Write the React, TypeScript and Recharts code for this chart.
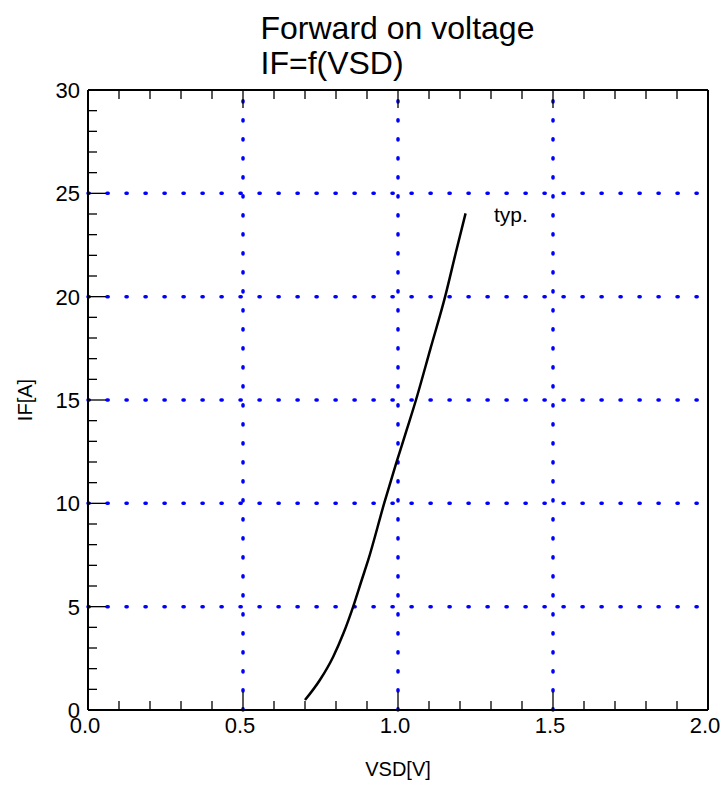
import React from 'react';
import { LineChart, Line, XAxis, YAxis, ReferenceLine } from 'recharts';

const VSD = [0.700, 0.748, 0.791, 0.824, 0.856, 0.883, 0.904, 0.956, 0.994, 1.028, 1.058, 1.105, 1.152, 1.186, 1.218];
const IF = [0.48, 1.45, 2.58, 3.71, 5.03, 6.29, 7.26, 10.03, 11.93, 13.55, 15.0, 17.5, 20.0, 22.1, 24.03];

const X_TICKS = [0, 0.1, 0.2, 0.3, 0.4, 0.5, 0.6, 0.7, 0.8, 0.9, 1.0, 1.1, 1.2, 1.3, 1.4, 1.5, 1.6, 1.7, 1.8, 1.9, 2.0];
const Y_TICKS = [0, 1, 2, 3, 4, 5, 6, 7, 8, 9, 10, 11, 12, 13, 14, 15, 16, 17, 18, 19, 20, 21, 22, 23, 24, 25, 26, 27, 28, 29, 30];
const GRID_X = [0.5, 1.0, 1.5];
const GRID_Y = [5, 10, 15, 20, 25];

const TITLE_1 = 'Forward on voltage';
const TITLE_2 = 'IF=f(VSD)';
const X_LABEL = 'VSD[V]';
const Y_LABEL = 'IF[A]';
const CURVE_LABEL = 'typ.';

const data = VSD.map((v, i) => ({ v, i: IF[i] }));

const FONT = '"Liberation Sans", Arial, Helvetica, sans-serif';
const MAJOR = 18;
const MINOR = 9;

const isMajorX = (v: number) => Math.abs(v * 2 - Math.round(v * 2)) < 1e-6;
const isMajorY = (v: number) => Math.abs(v / 5 - Math.round(v / 5)) < 1e-6;

const BottomTick = (props: any) => {
  const { x, y, payload } = props;
  const major = isMajorX(payload.value);
  return (
    <g>
      <line x1={x} y1={y} x2={x} y2={y - (major ? MAJOR : MINOR)} stroke="#000" strokeWidth={1.3} />
      {major && (
        <text x={x - 3} y={y + 23} textAnchor="middle" fontSize={22} fontFamily={FONT} fill="#000">
          {payload.value.toFixed(1)}
        </text>
      )}
    </g>
  );
};

const TopTick = (props: any) => {
  const { x, y, payload } = props;
  const major = isMajorX(payload.value);
  return <line x1={x} y1={y} x2={x} y2={y + (major ? MAJOR : MINOR)} stroke="#000" strokeWidth={1.3} />;
};

const LeftTick = (props: any) => {
  const { x, y, payload } = props;
  const major = isMajorY(payload.value);
  return (
    <g>
      <line x1={x} y1={y} x2={x + (major ? MAJOR : MINOR)} y2={y} stroke="#000" strokeWidth={1.3} />
      {major && (
        <text x={x - 8} y={y + 8} textAnchor="end" fontSize={22} fontFamily={FONT} fill="#000">
          {String(payload.value)}
        </text>
      )}
    </g>
  );
};

const RightTick = (props: any) => {
  const { x, y, payload } = props;
  const major = isMajorY(payload.value);
  return <line x1={x} y1={y} x2={x - (major ? MAJOR : MINOR)} y2={y} stroke="#000" strokeWidth={1.3} />;
};

export default function App() {
  return (
    <div style={{ position: 'absolute', left: 0, top: 0, width: 725, height: 789, background: '#fff' }}>
      <LineChart
        width={725}
        height={789}
        data={data}
        margin={{ top: 80, right: 7, bottom: 39, left: 48 }}
      >
        <XAxis
          xAxisId="b"
          dataKey="v"
          type="number"
          domain={[0, 2]}
          ticks={X_TICKS}
          interval={0}
          height={40}
          tickSize={0}
          tickMargin={0}
          tickLine={false}
          tick={<BottomTick />}
          axisLine={{ stroke: '#000', strokeWidth: 2 }}
          allowDataOverflow
        />
        <XAxis
          xAxisId="t"
          orientation="top"
          dataKey="v"
          type="number"
          domain={[0, 2]}
          ticks={X_TICKS}
          interval={0}
          height={10}
          tickSize={0}
          tickMargin={0}
          tickLine={false}
          tick={<TopTick />}
          axisLine={{ stroke: '#000', strokeWidth: 2 }}
        />
        <YAxis
          yAxisId="l"
          type="number"
          domain={[0, 30]}
          ticks={Y_TICKS}
          interval={0}
          width={40}
          tickSize={0}
          tickMargin={0}
          tickLine={false}
          tick={<LeftTick />}
          axisLine={{ stroke: '#000', strokeWidth: 2 }}
          allowDataOverflow
        />
        <YAxis
          yAxisId="r"
          orientation="right"
          type="number"
          domain={[0, 30]}
          ticks={Y_TICKS}
          interval={0}
          width={10}
          tickSize={0}
          tickMargin={0}
          tickLine={false}
          tick={<RightTick />}
          axisLine={{ stroke: '#000', strokeWidth: 2 }}
        />
        {GRID_X.map((gx) => (
          <ReferenceLine
            key={'gx' + gx}
            xAxisId="b"
            yAxisId="l"
            x={gx}
            stroke="#0000FF"
            strokeWidth={3.5}
            strokeDasharray="1.2 17.8"
            strokeLinecap="round"
          />
        ))}
        {GRID_Y.map((gy) => (
          <ReferenceLine
            key={'gy' + gy}
            xAxisId="b"
            yAxisId="l"
            y={gy}
            stroke="#0000FF"
            strokeWidth={3.5}
            strokeDasharray="1.2 17.8"
            strokeLinecap="round"
          />
        ))}
        <Line
          xAxisId="b"
          yAxisId="l"
          dataKey="i"
          type="monotone"
          stroke="#000"
          strokeWidth={2.5}
          dot={false}
          isAnimationActive={false}
        />
      </LineChart>
      <svg
        width={725}
        height={789}
        style={{ position: 'absolute', left: 0, top: 0, pointerEvents: 'none' }}
      >
        <text x={260.5} y={39} fontSize={32} fontFamily={FONT} fill="#000">{TITLE_1}</text>
        <text x={260.5} y={74} fontSize={32} fontFamily={FONT} fill="#000">{TITLE_2}</text>
        <text x={494} y={222} fontSize={21} fontFamily={FONT} fill="#000">{CURVE_LABEL}</text>
        <text x={398} y={776} textAnchor="middle" fontSize={20} fontFamily={FONT} fill="#000">{X_LABEL}</text>
        <text
          x={32}
          y={400}
          textAnchor="middle"
          fontSize={20}
          fontFamily={FONT}
          fill="#000"
          transform="rotate(-90 32 400)"
        >
          {Y_LABEL}
        </text>
      </svg>
    </div>
  );
}
